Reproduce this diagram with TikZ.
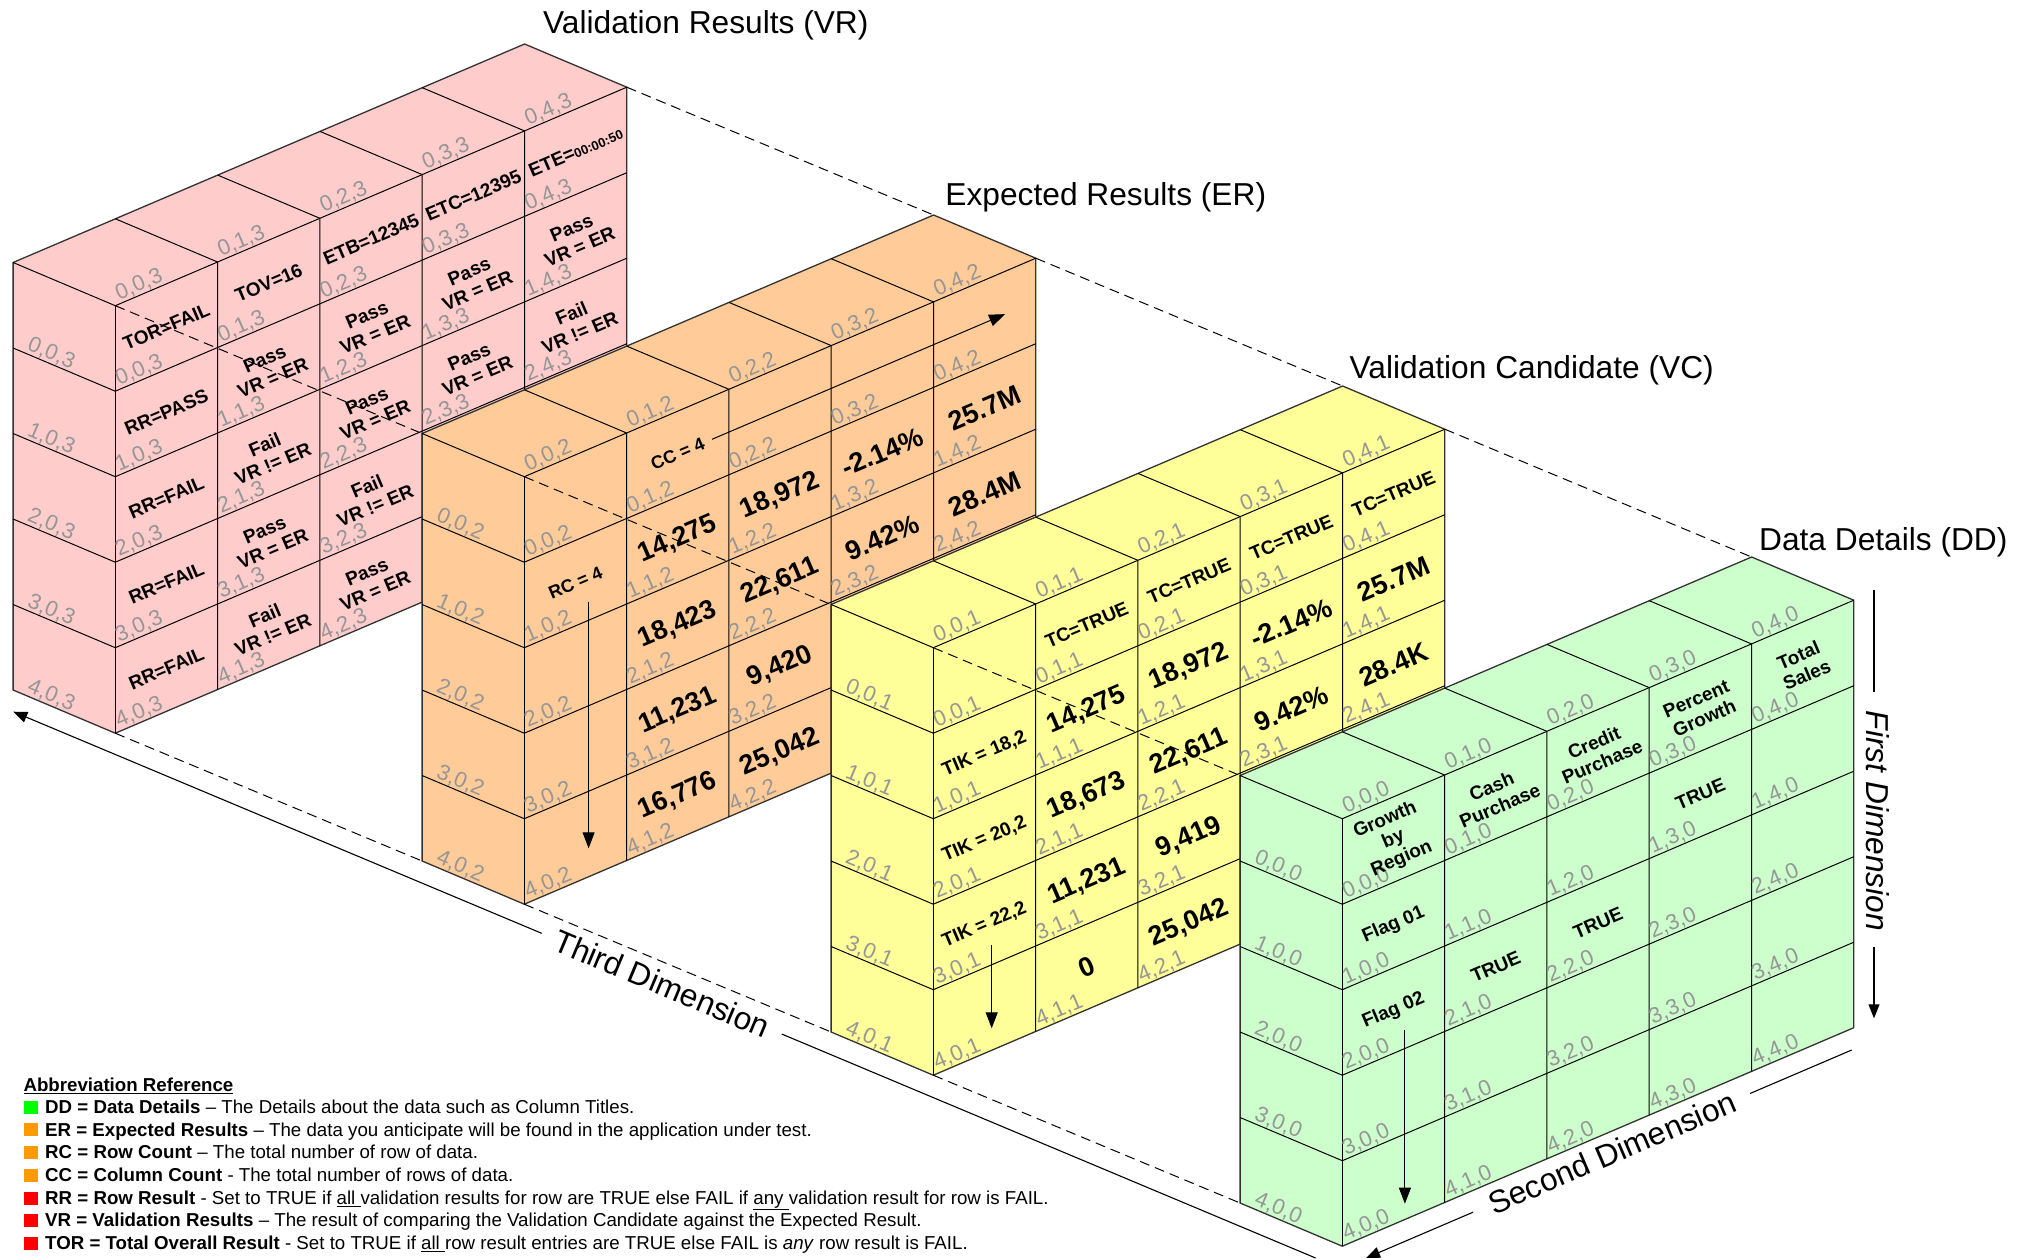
\documentclass[tikz,border=0pt]{standalone}
\usepackage{fontspec}
\setmainfont{Liberation Sans}
\usetikzlibrary{calc,arrows.meta}

\definecolor{vrfill}{RGB}{255,204,204}
\definecolor{erfill}{RGB}{255,204,153}
\definecolor{vcfill}{RGB}{255,255,153}
\definecolor{ddfill}{RGB}{204,255,204}
\definecolor{lblgray}{RGB}{150,150,150}
\definecolor{legG}{RGB}{0,255,0}
\definecolor{legO}{RGB}{255,153,0}
\definecolor{legR}{RGB}{255,0,0}

% block coordinates: prefix, back-top-left x, y
\newcommand{\mkblock}[3]{%
  \foreach \ci in {0,...,5}{%
    \foreach \ri in {0,...,5}{%
      \coordinate (#1-\ci-\ri-0) at ({#2+\ci*102.3},{#3-\ci*43.7+\ri*85.5});
      \coordinate (#1-\ci-\ri-1) at ({#2+\ci*102.3+102.2},{#3-\ci*43.7+\ri*85.5+43.2});
    }%
  }%
}

% draw block: prefix, fill colour, third index
\newcommand{\drawblock}[3]{%
  \filldraw[fill=#2, blockedge] (#1-0-0-0) -- (#1-5-0-0) -- (#1-5-0-1) -- (#1-5-5-1) -- (#1-0-5-1) -- (#1-0-5-0) -- cycle;
  \draw[gridline] (#1-0-0-0) -- (#1-0-0-1) -- (#1-5-0-1);
  \draw[gridline] (#1-0-0-1) -- (#1-0-5-1);
  \foreach \ii in {1,...,4}{%
    \draw[gridline] (#1-\ii-0-0) -- (#1-\ii-0-1) -- (#1-\ii-5-1);
    \draw[gridline] (#1-0-\ii-0) -- (#1-0-\ii-1) -- (#1-5-\ii-1);
  }%
  \foreach \ii [count=\jj] in {0,...,4}{%
    \node[lblF] (#1-lt\ii) at ($(#1-\ii-0-1)+(4.5,-2)$) {0,\ii,#3};
    \node[lblL] (#1-ll\ii) at ($(#1-0-\jj-0)+(11.2,4.7)$) {\ii,0,#3};
    \foreach \ri [count=\rj] in {0,...,4}{%
      \node[lblF] (#1-lf\ri\ii) at ($(#1-\ii-\rj-1)+(4.5,-2)$) {\ri,\ii,#3};
    }%
  }%
}

% cell text: [style]{prefix}{row}{col}{text}
\newcommand{\ct}[5][ctx]{\node[#1] (#2-t#3#4) at ($(#2-#4-#3-1)+(51.15,20.9)$) {#5};}

\begin{document}
\begin{tikzpicture}[x=1pt,y=-1pt,
  blockedge/.style={draw=black!80, line width=1.3pt},
  gridline/.style={draw=black, line width=1pt},
  lbl/.style={text=lblgray, font=\fontsize{22}{22}\selectfont, inner sep=0.5pt},
  lblF/.style={lbl, anchor=south west, rotate=23.13},
  lblL/.style={lbl, anchor=south west, rotate=-22.9},
  ctx/.style={font=\bfseries\fontsize{19}{21}\selectfont, rotate=23.13, align=center, inner sep=0pt},
  csm/.style={font=\bfseries\fontsize{18}{20}\selectfont, rotate=23.13, align=center, inner sep=0pt},
  cbig/.style={font=\bfseries\fontsize{27}{27}\selectfont, rotate=23.13, inner sep=0pt},
  dashline/.style={draw=black, line width=1pt, dash pattern=on 10pt off 6pt},
  iarrow/.style={draw=black, line width=1pt, -{Triangle[length=16pt,width=12pt]}},
  dimline/.style={draw=black, line width=1.1pt},
  dimarrow/.style={dimline, -{Triangle[length=14pt,width=11pt]}},
  title/.style={font=\fontsize{31.7}{32}\selectfont, inner sep=0pt},
  leg/.style={anchor=base west, font=\fontsize{18.7}{18.7}\selectfont, inner sep=0pt},
  lsq/.style={minimum width=14.3pt, minimum height=13pt, inner sep=0pt, draw=none}
]
\useasboundingbox (0,0) rectangle (2019,1259);
\fill[white] (0,0) rectangle (2019,1259);

\mkblock{vr}{13.1}{262.5}
\mkblock{er}{422.1}{433.5}
\mkblock{vc}{831.1}{604.5}
\mkblock{dd}{1240.1}{775.5}

% ---------------- Validation Results (VR) ----------------
\drawblock{vr}{vrfill}{3}
\ct{vr}{0}{0}{TOR=FAIL}
\ct{vr}{0}{1}{TOV=16}
\ct{vr}{0}{2}{ETB=12345}
\ct{vr}{0}{3}{ETC=12395}
\ct{vr}{0}{4}{ETE={\fontsize{13}{13}\selectfont 00:00:50}}
\ct{vr}{1}{0}{RR=PASS}
\ct{vr}{1}{1}{Pass\\VR = ER}
\ct{vr}{1}{2}{Pass\\VR = ER}
\ct{vr}{1}{3}{Pass\\VR = ER}
\ct{vr}{1}{4}{Pass\\VR = ER}
\ct{vr}{2}{0}{RR=FAIL}
\ct{vr}{2}{1}{Fail\\VR != ER}
\ct{vr}{2}{2}{Pass\\VR = ER}
\ct{vr}{2}{3}{Pass\\VR = ER}
\ct{vr}{2}{4}{Fail\\VR != ER}
\ct{vr}{3}{0}{RR=FAIL}
\ct{vr}{3}{1}{Pass\\VR = ER}
\ct{vr}{3}{2}{Fail\\VR != ER}
\ct{vr}{4}{0}{RR=FAIL}
\ct{vr}{4}{1}{Fail\\VR != ER}
\ct{vr}{4}{2}{Pass\\VR = ER}
\draw[dashline] (vr-0-0-1) -- (er-0-0-0);
\draw[dashline] (vr-5-0-1) -- (er-5-0-0);
\draw[dashline] (vr-0-5-1) -- (er-0-5-0);

% ---------------- Expected Results (ER) ----------------
\drawblock{er}{erfill}{2}
\ct[csm]{er}{0}{1}{CC = 4}
\ct[csm]{er}{1}{0}{RC = 4}
\ct[cbig]{er}{1}{1}{14,275}
\ct[cbig]{er}{1}{2}{18,972}
\ct[cbig]{er}{1}{3}{-2.14\%}
\ct[cbig]{er}{1}{4}{25.7M}
\ct[cbig]{er}{2}{1}{18,423}
\ct[cbig]{er}{2}{2}{22,611}
\ct[cbig]{er}{2}{3}{9.42\%}
\ct[cbig]{er}{2}{4}{28.4M}
\ct[cbig]{er}{3}{1}{11,231}
\ct[cbig]{er}{3}{2}{9,420}
\ct[cbig]{er}{4}{1}{16,776}
\ct[cbig]{er}{4}{2}{25,042}
\coordinate (ccA) at ($(er-0-0-1)+(187.7,-37.4)$);
\coordinate (ccB) at ($(er-0-0-1)+(480.8,-162.6)$);
\draw[iarrow] (ccA) -- (ccB);
\coordinate (rcA) at ($(er-0-0-1)+(64.3,125)$);
\coordinate (rcB) at ($(er-0-0-1)+(64.3,371.6)$);
\draw[iarrow] (rcA) -- (rcB);
\draw[dashline] (er-0-0-1) -- (vc-0-0-0);
\draw[dashline] (er-5-0-1) -- (vc-5-0-0);
\draw[dashline] (er-0-5-1) -- (vc-0-5-0);

% ---------------- Validation Candidate (VC) ----------------
\drawblock{vc}{vcfill}{1}
\ct{vc}{0}{1}{TC=TRUE}
\ct{vc}{0}{2}{TC=TRUE}
\ct{vc}{0}{3}{TC=TRUE}
\ct{vc}{0}{4}{TC=TRUE}
\ct{vc}{1}{0}{TIK = 18,2}
\ct{vc}{2}{0}{TIK = 20,2}
\ct{vc}{3}{0}{TIK = 22,2}
\ct[cbig]{vc}{1}{1}{14,275}
\ct[cbig]{vc}{1}{2}{18,972}
\ct[cbig]{vc}{1}{3}{-2.14\%}
\ct[cbig]{vc}{1}{4}{25.7M}
\ct[cbig]{vc}{2}{1}{18,673}
\ct[cbig]{vc}{2}{2}{22,611}
\ct[cbig]{vc}{2}{3}{9.42\%}
\ct[cbig]{vc}{2}{4}{28.4K}
\ct[cbig]{vc}{3}{1}{11,231}
\ct[cbig]{vc}{3}{2}{9,419}
\ct[cbig]{vc}{4}{1}{0}
\ct[cbig]{vc}{4}{2}{25,042}
\coordinate (tkA) at ($(vc-0-0-1)+(58.4,297.3)$);
\coordinate (tkB) at ($(vc-0-0-1)+(58.4,380.6)$);
\draw[iarrow] (tkA) -- (tkB);
\draw[dashline] (vc-0-0-1) -- (dd-0-0-0);
\draw[dashline] (vc-5-0-1) -- (dd-5-0-0);
\draw[dashline] (vc-0-5-1) -- (dd-0-5-0);

% ---------------- Data Details (DD) ----------------
\drawblock{dd}{ddfill}{0}
\ct{dd}{0}{0}{Growth\\by\\Region}
\ct{dd}{0}{1}{Cash\\Purchase}
\ct{dd}{0}{2}{Credit\\Purchase}
\ct{dd}{0}{3}{Percent\\Growth}
\ct{dd}{0}{4}{Total\\Sales}
\ct{dd}{1}{0}{Flag 01}
\ct{dd}{2}{0}{Flag 02}
\ct{dd}{2}{1}{TRUE}
\ct{dd}{2}{2}{TRUE}
\ct{dd}{1}{3}{TRUE}
\coordinate (flA) at ($(dd-0-0-1)+(62.6,211.7)$);
\coordinate (flB) at ($(dd-0-0-1)+(62.6,385)$);
\draw[iarrow] (flA) -- (flB);

% ---------------- titles ----------------
\node[title, anchor=base] (tVR) at (705.8,33.3) {Validation Results (VR)};
\node[title, anchor=base] (tER) at (1105.8,205) {Expected Results (ER)};
\node[title, anchor=base] (tVC) at (1531.7,378.3) {Validation Candidate (VC)};
\node[title, anchor=base] (tDD) at (1883.3,550) {Data Details (DD)};

% ---------------- dimensions ----------------
\coordinate (td0) at (1315.6,1258);
\coordinate (td1) at (781.7,1034);
\coordinate (td2) at (541.7,933.3);
\coordinate (td3) at (13.3,711.7);
\draw[dimline] (td0) -- (td1);
\draw[dimarrow] (td2) -- (td3);
\node[title, rotate=-22.76] (tdT) at (662,983.7) {Third Dimension};

\coordinate (sd0) at (1851.7,1050);
\coordinate (sd1) at (1750,1093.5);
\coordinate (sd2) at (1473,1212.2);
\coordinate (sd3) at (1366,1258);
\draw[dimline] (sd0) -- (sd1);
\draw[dimarrow] (sd2) -- (sd3);
\node[title, rotate=23.17] (sdT) at (1612,1152.5) {Second Dimension};

\coordinate (fd0) at (1874,590);
\coordinate (fd1) at (1874,691.7);
\coordinate (fd2) at (1874,946.7);
\coordinate (fd3) at (1874,1018.3);
\draw[dimline] (fd0) -- (fd1);
\draw[dimarrow] (fd2) -- (fd3);
\node[title, font=\itshape\fontsize{31.7}{32}\selectfont, rotate=-90] (fdT) at (1877.5,820.8) {First Dimension};

% ---------------- legend ----------------
\node[leg, font=\bfseries\fontsize{18.7}{18.7}\selectfont] (legT) at (23.3,1091.7) {\underline{Abbreviation Reference}};
\node[lsq, fill=legG] (s1) at (31.2,1107.2) {};
\node[leg] (l1) at (45,1113.3) {\textbf{DD = Data Details} \textendash{} The Details about the data such as Column Titles.};
\node[lsq, fill=legO] (s2) at (31.2,1129.9) {};
\node[leg] (l2) at (45,1136) {\textbf{ER = Expected Results} \textendash{} The data you anticipate will be found in the application under test.};
\node[lsq, fill=legO] (s3) at (31.2,1152.4) {};
\node[leg] (l3) at (45,1158.5) {\textbf{RC = Row Count} \textendash{} The total number of row of data.};
\node[lsq, fill=legO] (s4) at (31.2,1175.5) {};
\node[leg] (l4) at (45,1181.6) {\textbf{CC = Column Count} - The total number of rows of data.};
\node[lsq, fill=legR] (s5) at (31.2,1198.2) {};
\node[leg] (l5) at (45,1204.3) {\textbf{RR = Row Result} - Set to TRUE if \underline{all }validation results for row are TRUE else FAIL if \underline{any }validation result for row is FAIL.};
\node[lsq, fill=legR] (s6) at (31.2,1220.7) {};
\node[leg] (l6) at (45,1226.8) {\textbf{VR = Validation Results} \textendash{} The result of comparing the Validation Candidate against the Expected Result.};
\node[lsq, fill=legR] (s7) at (31.2,1243.2) {};
\node[leg] (l7) at (45,1249.3) {\textbf{TOR = Total Overall Result} - Set to TRUE if \underline{all }row result entries are TRUE else FAIL is \textit{any} row result is FAIL.};
\end{tikzpicture}
\end{document}
